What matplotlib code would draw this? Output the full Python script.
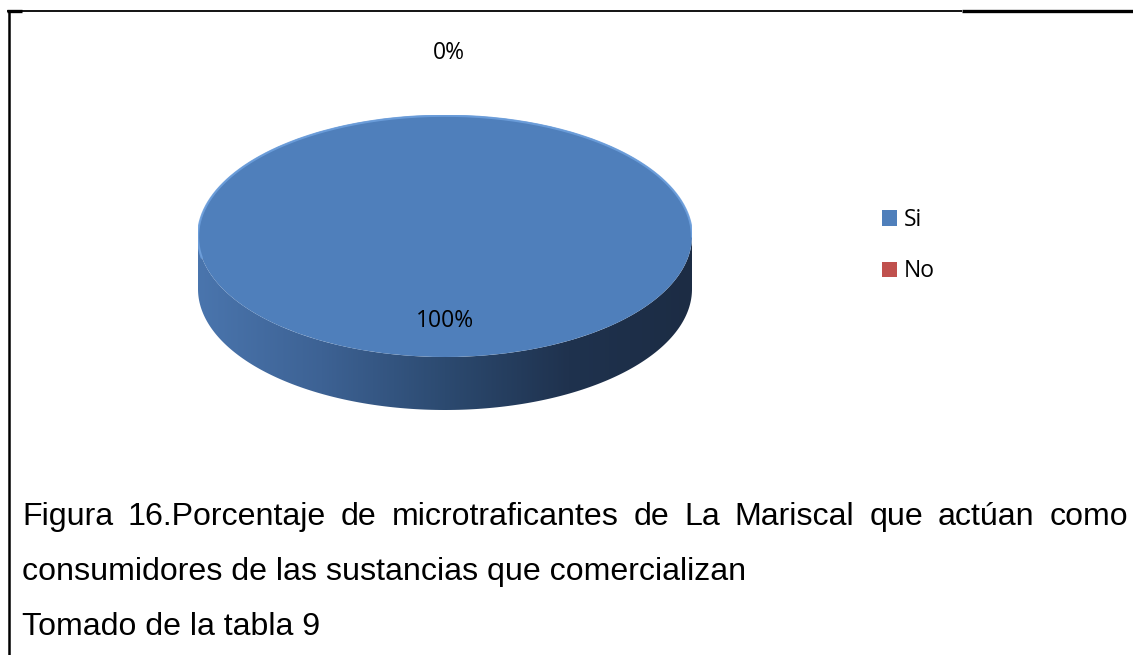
import matplotlib
matplotlib.use("Agg")
import matplotlib.pyplot as plt
import numpy as np
from matplotlib.patches import Polygon, Patch
from matplotlib.colors import LinearSegmentedColormap

# ---- data ----
categories = ["Si", "No"]
values = [100, 0]
pct_labels = ["100%", "0%"]
colors = ["#4f7fbb", "#c0504d"]
caption_lines = [
    "Figura 16.Porcentaje de microtraficantes de La Mariscal que actúan como",
    "consumidores de las sustancias que comercializan",
    "Tomado de la tabla 9",
]

W, H = 1133, 655
DPI = 100
fig = plt.figure(figsize=(W / DPI, H / DPI), dpi=DPI)
fig.patch.set_facecolor("white")

# overlay axes in pixel coords
bg = fig.add_axes([0, 0, 1, 1])
bg.set_xlim(0, W)
bg.set_ylim(H, 0)
bg.axis("off")

# borders
bg.plot([7, 962], [10.5, 10.5], color="black", lw=1.3, solid_capstyle="butt")
bg.plot([962, W], [10.5, 10.5], color="black", lw=2.4, solid_capstyle="butt")
bg.plot([8.5, 8.5], [10, H], color="black", lw=1.8, solid_capstyle="butt")
bg.plot([7, 22], [11, 11], color="black", lw=2.4, solid_capstyle="butt")

# ---- 3D pie geometry (pixels) ----
cx, cy, rx, ry, depth = 445, 236, 247, 121, 53
d = depth / ry  # depth in pie-axes units
left = (cx - rx) / W
width = 2 * rx / W
bottom = 1 - (cy + ry + depth) / H
height = (2 * ry + depth) / H
pax = fig.add_axes([left, bottom, width, height])
pax.axis("off")

wedges, _ = pax.pie(values, colors=colors, startangle=90, counterclock=False,
                    radius=1.0, wedgeprops=dict(linewidth=0))
pax.set_aspect("auto")

# side faces from each wedge's angular extent (front half only)
side_cmap = LinearSegmentedColormap.from_list(
    "side", ["#4a75ad", "#3d6294", "#2c4a70", "#1f324e", "#1c2c44"])
for w in wedges:
    t1, t2 = sorted([w.theta1, w.theta2])
    if t2 - t1 <= 0:
        continue
    segs = []
    for k in (-360, 0, 360):
        a, b = max(t1, 180 + k), min(t2, 360 + k)
        if b > a:
            segs.append((a, b))
    for a, b in segs:
        th = np.radians(np.linspace(a, b, 200))
        top = np.c_[np.cos(th), np.sin(th)]
        bot = top[::-1] - [0, d]
        poly = Polygon(np.vstack([top, bot]), closed=True, facecolor="none",
                       edgecolor="none")
        pax.add_patch(poly)
        grad = np.linspace(0, 1, 256).reshape(1, -1)
        im = pax.imshow(grad, cmap=side_cmap, extent=[-1, 1, -1 - d, 0.2],
                        aspect="auto", zorder=0.5, interpolation="bilinear")
        im.set_clip_path(poly)
        thh = np.radians(np.linspace(max(a, 190), min(b, 300), 200))
        pax.plot(np.cos(thh), np.sin(thh) - 0.006, color="#6d9fdc", lw=1.6,
                 alpha=0.9, zorder=3, solid_capstyle="round")

for w in wedges:
    w.set_zorder(2)
pax.set_xlim(-1, 1)
pax.set_ylim(-1 - d, 1)

# percentage labels
label_r = {0: 0.70, 1: 1.515}
for i, w in enumerate(wedges):
    mid = np.radians((w.theta1 + w.theta2) / 2)
    r = label_r[i]
    x = np.cos(mid) * r
    y = np.sin(mid) * r
    if values[i] == 0:
        x += 4 / rx
    pax.text(x, y, pct_labels[i], ha="center", va="center", fontsize=16.5,
             family="Open Sans", color="black", zorder=5, clip_on=False)

# legend
handles = [Patch(facecolor=c, edgecolor="none") for c in colors]
fig.legend(handles, categories, loc="upper left",
           bbox_to_anchor=(882 / W, 1 - 208 / H), frameon=False,
           prop=dict(family="Open Sans", size=16.5), handlelength=0.65,
           handleheight=0.65, handletextpad=0.3, labelspacing=1.2,
           borderaxespad=0, borderpad=0)

# caption, first line justified
fs = 23.1
fam = "Liberation Sans"
x0, x1 = 22, 1128
baselines = [525, 580, 635]
renderer = fig.canvas.get_renderer()
words = caption_lines[0].split(" ")
texts = [bg.text(0, baselines[0], wd, fontsize=fs, family=fam,
                 va="baseline", ha="left") for wd in words]
widths = [t.get_window_extent(renderer=renderer).width for t in texts]
gap = (x1 - x0 - sum(widths)) / (len(words) - 1)
x = x0
for t, wdt in zip(texts, widths):
    t.set_x(x)
    x += wdt + gap
for line, yb in zip(caption_lines[1:], baselines[1:]):
    bg.text(x0, yb, line, fontsize=fs, family=fam, va="baseline", ha="left")

fig.savefig("out.png", dpi=DPI, facecolor="white")
